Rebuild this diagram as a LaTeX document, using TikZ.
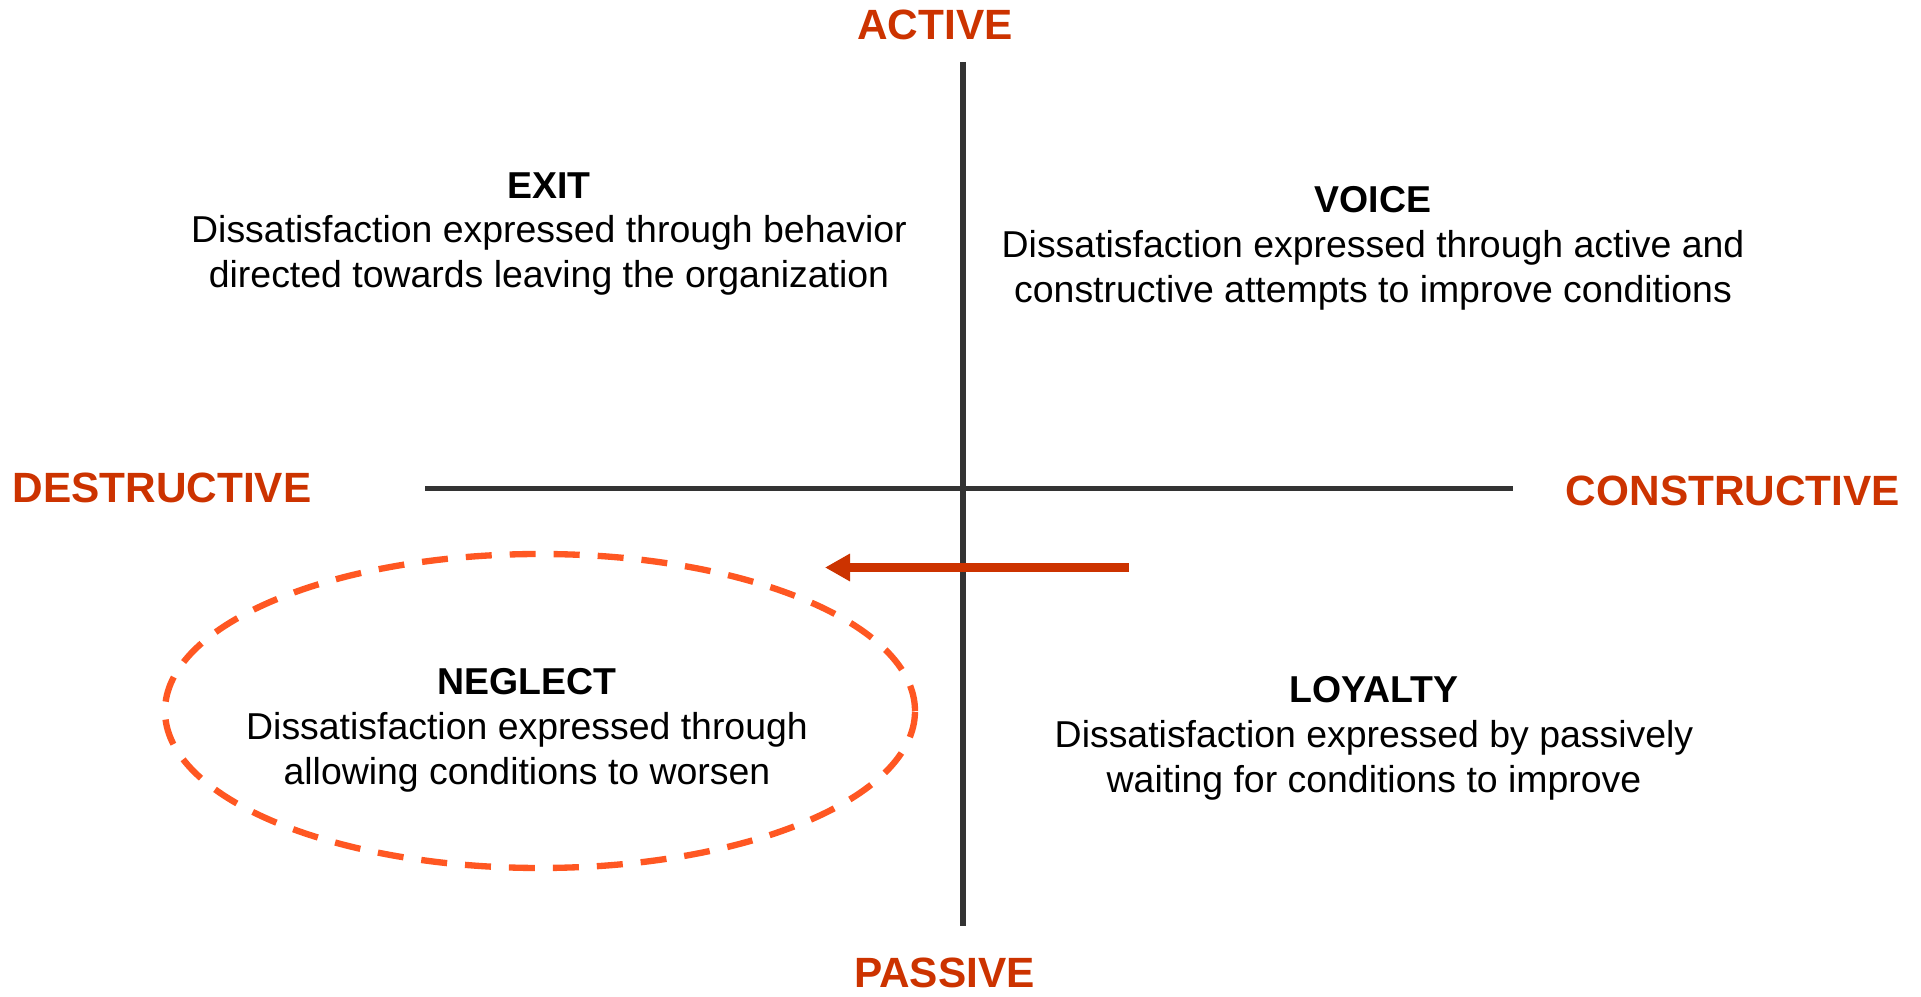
\documentclass[tikz,border=0pt]{standalone}
\usepackage{fontspec}
\setmainfont{Liberation Sans}
\usepackage{xcolor}
\usepackage{tikz}
\usetikzlibrary{shapes,arrows.meta,positioning,calc}

\definecolor{axisred}{HTML}{CC3300}
\definecolor{ringorange}{HTML}{FF5722}
\definecolor{axisgray}{HTML}{333333}

\begin{document}
\begin{tikzpicture}[x=0.02cm, y=0.02cm,
        axislabel/.style={text=axisred, font=\fontsize{24.1}{28}\selectfont\bfseries, inner sep=0pt},
        quadrant/.style={align=center, font=\fontsize{21.3}{25.6}\selectfont, inner sep=0pt},
        axisline/.style={axisgray, line width=3.4pt}]
    \useasboundingbox (0,0) rectangle (1921,997);

    % the two axes
    \coordinate (axtop) at (963,935);
    \coordinate (axbottom) at (963,71);
    \coordinate (axleft) at (425,508.5);
    \coordinate (axright) at (1513,508.5);
    \draw[axisline] (axtop) -- (axbottom);
    \draw[axisline] (axleft) -- (axright);

    \node[axislabel] (active) at (935,972.5) {ACTIVE};
    \node[axislabel] (passive) at (944.5,24) {PASSIVE};
    \node[axislabel] (destructive) at (162,509) {DESTRUCTIVE};
    \node[axislabel] (constructive) at (1733,506) {CONSTRUCTIVE};

    % quadrants
    \node[quadrant] (exit) at (549,763) {\textbf{EXIT}\\Dissatisfaction expressed through behavior\\directed towards leaving the organization};
    \node[quadrant] (voice) at (1373,749) {\textbf{VOICE}\\Dissatisfaction expressed through active and\\constructive attempts to improve conditions};
    \node[quadrant] (neglect) at (527,266.5) {\textbf{NEGLECT}\\Dissatisfaction expressed through\\allowing conditions to worsen};
    \node[quadrant] (loyalty) at (1374,259) {\textbf{LOYALTY}\\Dissatisfaction expressed by passively\\waiting for conditions to improve};

    % highlight and shift towards neglect
    \draw[ringorange, line width=3.6pt, dash pattern=on 0.52cm off 0.36cm] (540,286) ellipse [x radius=375, y radius=157];
    \coordinate (shiftfrom) at (1129,429.5);
    \coordinate (shiftto) at (825,429.5);
    \draw[axisred, line width=5.4pt, -{Triangle[length=0.5cm, width=0.52cm]}] (shiftfrom) -- (shiftto);
\end{tikzpicture}
\end{document}
